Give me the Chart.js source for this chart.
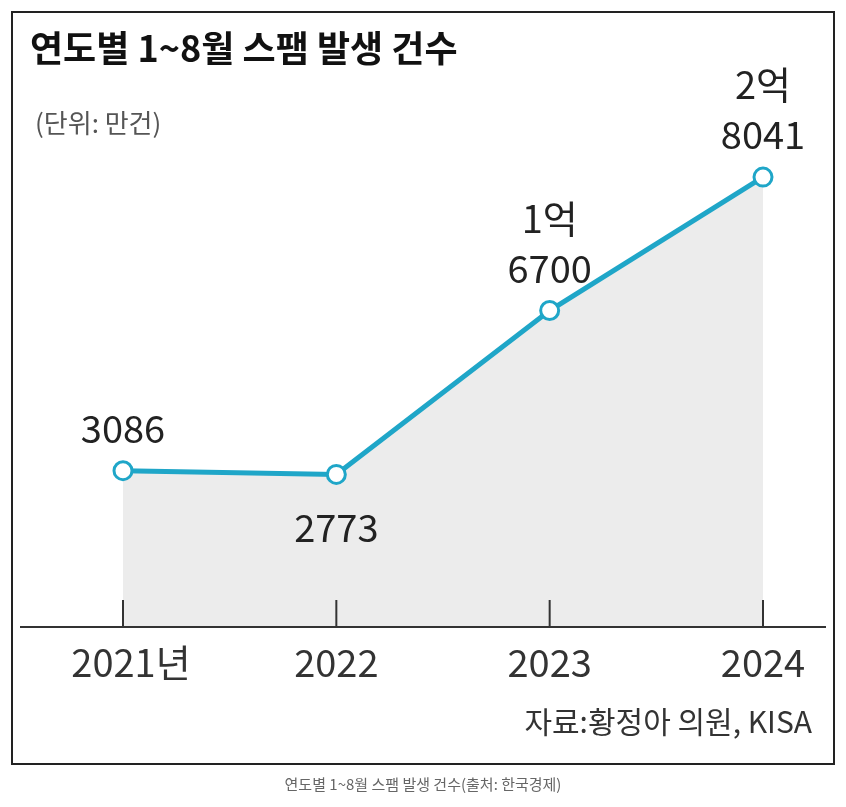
<!DOCTYPE html>
<html><head><meta charset="utf-8">
<script src="https://cdn.jsdelivr.net/npm/chart.js@4/dist/chart.umd.min.js"></script>
<style>body{margin:0;background:#fff}canvas{display:block}</style>
</head><body>
<canvas id="c" width="846" height="807"></canvas>
<script>
var years = ['2021년', '2022', '2023', '2024'];
var spam = [3086, 2773, 16700, 28041];
var valueLabels = [['3086'], ['2773'], ['1억', '6700'], ['2억', '8041']];
var labelBelow = [false, true, false, false];

var font = '"Liberation Sans Narrow", "Noto Sans CJK KR", sans-serif';

var decor = {
  id: 'decor',
  beforeDraw: function (chart) {
    var ctx = chart.ctx;
    ctx.save();
    ctx.fillStyle = '#fff';
    ctx.fillRect(0, 0, 846, 807);
    ctx.strokeStyle = '#222';
    ctx.lineWidth = 2;
    ctx.strokeRect(12, 12, 822, 752);
    ctx.restore();
  },
  beforeDatasetsDraw: function (chart) {
    // envelope, over the fill but under the line
    var ctx = chart.ctx;
    ctx.save();
    ctx.fillStyle = '#7a7a7a';
    ctx.beginPath();
    ctx.moveTo(572, 370); ctx.lineTo(718, 345); ctx.lineTo(745, 372); ctx.lineTo(745, 450); ctx.lineTo(600, 470); ctx.closePath(); ctx.fill();
    ctx.fillStyle = '#a9a9a9';
    ctx.beginPath();
    ctx.moveTo(570, 418); ctx.lineTo(740, 395); ctx.lineTo(752, 520); ctx.lineTo(600, 548); ctx.closePath(); ctx.fill();
    ctx.fillStyle = '#fff';
    ctx.beginPath();
    ctx.moveTo(640, 440); ctx.lineTo(665, 375); ctx.lineTo(712, 432); ctx.closePath(); ctx.fill();
    ctx.fillStyle = '#222';
    ctx.font = 'bold 40px ' + font;
    ctx.textAlign = 'center';
    ctx.fillText('!', 669, 428);
    ctx.fillStyle = '#6f6f6f';
    ctx.beginPath();
    ctx.moveTo(632, 490); ctx.lineTo(748, 474); ctx.lineTo(752, 505); ctx.lineTo(637, 522); ctx.closePath(); ctx.fill();
    ctx.fillStyle = '#fff';
    ctx.font = 'bold 13px ' + font;
    ctx.fillText('SPAM', 693, 503);
    ctx.restore();
  },
  afterDraw: function (chart) {
    var ctx = chart.ctx;
    var xs = chart.scales.x, ys = chart.scales.y;
    ctx.save();
    ctx.fillStyle = '#111';
    ctx.textAlign = 'left';
    ctx.font = 'bold 36px ' + font;
    ctx.fillText('연도별 1~8월 스팸 발생 건수', 30, 62);
    ctx.fillStyle = '#555';
    ctx.font = '26px ' + font;
    ctx.fillText('(단위: 만건)', 35, 133);
    var base = 627;
    ctx.strokeStyle = '#333';
    ctx.lineWidth = 2;
    ctx.beginPath(); ctx.moveTo(20, base); ctx.lineTo(826, base); ctx.stroke();
    ctx.textAlign = 'center';
    for (var i = 0; i < years.length; i++) {
      var x = xs.getPixelForValue(i);
      ctx.beginPath(); ctx.moveTo(x, 600); ctx.lineTo(x, base); ctx.stroke();
      ctx.fillStyle = '#333';
      ctx.font = '38px ' + font;
      ctx.fillText(years[i], i === 0 ? x + 8 : x, 677);
      var y = ys.getPixelForValue(spam[i]);
      ctx.fillStyle = '#222';
      var lines = valueLabels[i];
      for (var k = 0; k < lines.length; k++) {
        var ly = labelBelow[i] ? y + 68 + k * 50 : y - 28 - (lines.length - 1 - k) * 50;
        ctx.fillText(lines[k], x, ly);
      }
    }
    ctx.textAlign = 'right';
    ctx.fillStyle = '#333';
    ctx.font = '30px ' + font;
    ctx.fillText('자료:황정아 의원, KISA', 812, 733);
    ctx.textAlign = 'center';
    ctx.fillStyle = '#666';
    ctx.font = '15px "Noto Sans CJK KR", sans-serif';
    ctx.fillText('연도별 1~8월 스팸 발생 건수(출처: 한국경제)', 423, 790);
    ctx.restore();
  }
};

new Chart(document.getElementById('c').getContext('2d'), {
  type: 'line',
  data: {
    labels: years,
    datasets: [{
      data: spam,
      borderColor: '#1fa6c8',
      borderWidth: 5,
      backgroundColor: '#ececec',
      fill: 'start',
      pointRadius: 9,
      pointBorderWidth: 3,
      pointBackgroundColor: '#fff',
      pointBorderColor: '#1fa6c8',
      tension: 0
    }]
  },
  options: {
    responsive: false,
    animation: false,
    layout: { padding: { left: 123, right: 83, top: 150, bottom: 180 } },
    plugins: { legend: { display: false }, tooltip: { enabled: false } },
    scales: {
      x: { display: false, offset: false },
      y: { display: false, min: -10200, max: 30345 }
    }
  },
  plugins: [decor]
});
</script>
</body></html>
